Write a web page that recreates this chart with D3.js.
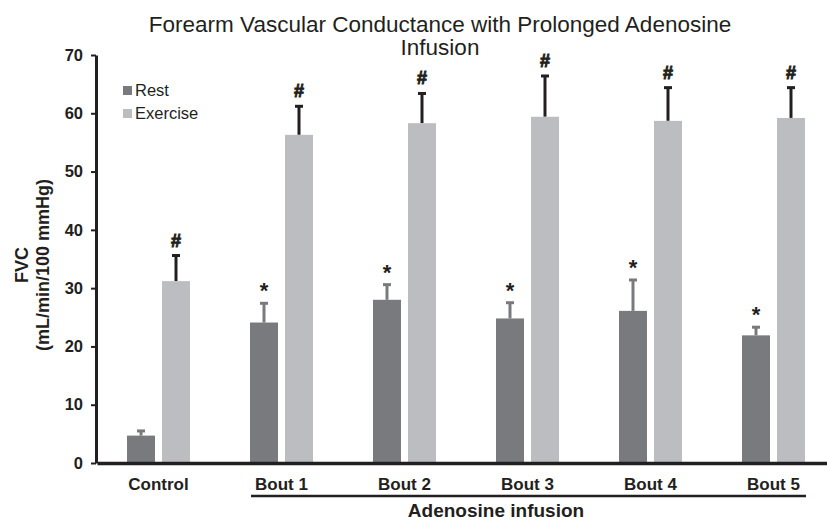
<!DOCTYPE html>
<html>
<head>
<meta charset="utf-8">
<script src="https://cdn.jsdelivr.net/npm/d3@7"></script>
<style>
  body { margin: 0; background: #fff; }
  svg { display: block; font-family: "Liberation Sans", Arial, sans-serif; }
</style>
</head>
<body>
<div id="chart"></div>
<script>
// Data
const groups = ["Control", "Bout 1", "Bout 2", "Bout 3", "Bout 4", "Bout 5"]
const series = ["Rest", "Exercise"]
const restValues = [4.7, 24.1, 28.0, 24.8, 26.1, 21.9]
const restErrors = [0.8, 3.3, 2.6, 2.7, 5.3, 1.4]
const exerciseValues = [31.2, 56.3, 58.3, 59.4, 58.7, 59.2]
const exerciseErrors = [4.4, 4.9, 5.1, 7.0, 5.7, 5.2]
const restMarks = ["", "*", "*", "*", "*", "*"]
const exerciseMarks = ["#", "#", "#", "#", "#", "#"]
const yTicks = [0, 10, 20, 30, 40, 50, 60, 70]

// Colors
const restColor = "#797a7e"
const exerciseColor = "#bcbdc1"
const axisColor = "#231f20"

const width = 827
const height = 520

const svg = d3.select("#chart")
  .append("svg")
    .attr("width", width)
    .attr("height", height)

// Scales
const yScale = d3.scaleLinear()
    .domain([0, 70])
    .range([463, 55])

const xScale = d3.scaleBand()
    .domain(groups)
    .range([97, 835])

const xInner = d3.scaleBand()
    .domain(series)
    .range([30, 93])
    .paddingInner(0.2)

const rows = groups.map(function(g, i) {
  return [
    {group: g, key: "Rest", value: restValues[i], err: restErrors[i], mark: restMarks[i], color: restColor, errColor: restColor},
    {group: g, key: "Exercise", value: exerciseValues[i], err: exerciseErrors[i], mark: exerciseMarks[i], color: exerciseColor, errColor: axisColor}
  ]
}).flat()

function barX(d) { return xScale(d.group) + xInner(d.key) }
function barMid(d) { return barX(d) + xInner.bandwidth() / 2 }

// Title
svg.append("text")
    .attr("x", 440)
    .attr("y", 32)
    .attr("text-anchor", "middle")
    .style("font-size", "22.5px")
    .style("fill", axisColor)
    .text("Forearm Vascular Conductance with Prolonged Adenosine")

svg.append("text")
    .attr("x", 440)
    .attr("y", 55)
    .attr("text-anchor", "middle")
    .style("font-size", "22.5px")
    .style("fill", axisColor)
    .text("Infusion")

// Error bars (drawn first so bars cover the lower half)
const errG = svg.append("g")
errG.selectAll(".err-line")
    .data(rows)
    .enter().append("line")
    .attr("x1", barMid)
    .attr("x2", barMid)
    .attr("y1", function(d) { return yScale(d.value) })
    .attr("y2", function(d) { return yScale(d.value + d.err) })
    .attr("stroke", function(d) { return d.errColor })
    .attr("stroke-width", 3)

errG.selectAll(".err-cap")
    .data(rows)
    .enter().append("line")
    .attr("x1", function(d) { return barMid(d) - 4 })
    .attr("x2", function(d) { return barMid(d) + 4 })
    .attr("y1", function(d) { return yScale(d.value + d.err) })
    .attr("y2", function(d) { return yScale(d.value + d.err) })
    .attr("stroke", function(d) { return d.errColor })
    .attr("stroke-width", 3)

// Bars
svg.append("g").selectAll("rect")
    .data(rows)
    .enter().append("rect")
    .attr("x", barX)
    .attr("y", function(d) { return yScale(d.value) })
    .attr("width", xInner.bandwidth())
    .attr("height", function(d) { return yScale(0) - yScale(d.value) })
    .attr("fill", function(d) { return d.color })

// Significance marks
svg.append("g").selectAll("text")
    .data(rows.filter(function(d) { return d.mark !== "" }))
    .enter().append("text")
    .attr("x", barMid)
    .attr("y", function(d) { return yScale(d.value + d.err) - (d.mark === "#" ? 9 : 5) })
    .attr("text-anchor", "middle")
    .style("font-size", function(d) { return d.mark === "#" ? "18px" : "22px" })
    .style("font-weight", "bold")
    .style("fill", axisColor)
    .style("stroke", axisColor)
    .style("stroke-width", function(d) { return d.mark === "#" ? 0.9 : 0 })
    .text(function(d) { return d.mark })

// Y-axis
const yAxis = svg.append("g")
    .attr("class", "y-axis")
    .attr("transform", "translate(96,0)")
    .call(d3.axisLeft(yScale)
      .tickValues(yTicks)
      .tickSizeInner(5)
      .tickSizeOuter(0)
      .tickPadding(8))

yAxis.select(".domain").attr("stroke", axisColor).attr("stroke-width", 3)
yAxis.selectAll(".tick line").attr("stroke", axisColor).attr("stroke-width", 2)
yAxis.selectAll(".tick text")
    .style("font-size", "16.5px")
    .style("font-weight", "bold")
    .style("font-family", "Liberation Sans, Arial, sans-serif")
    .attr("fill", axisColor)

// X-axis
const xAxis = svg.append("g")
    .attr("class", "x-axis")
    .attr("transform", "translate(0,463)")
    .call(d3.axisBottom(xScale)
      .tickSize(0)
      .tickPadding(15))

xAxis.select(".domain").attr("stroke", axisColor).attr("stroke-width", 3.5)
xAxis.selectAll(".tick text")
    .style("font-size", "17px")
    .style("font-weight", "bold")
    .style("font-family", "Liberation Sans, Arial, sans-serif")
    .attr("fill", axisColor)

// Bracket under the adenosine bouts
svg.append("line")
    .attr("x1", xScale("Bout 1") + 31)
    .attr("x2", xScale("Bout 5") + 94)
    .attr("y1", 496)
    .attr("y2", 496)
    .attr("stroke", axisColor)
    .attr("stroke-width", 2.5)

svg.append("text")
    .attr("x", 496)
    .attr("y", 517)
    .attr("text-anchor", "middle")
    .style("font-size", "19px")
    .style("font-weight", "bold")
    .style("fill", axisColor)
    .text("Adenosine infusion")

// Y-axis title
const yTitle = svg.append("text")
    .attr("transform", "translate(0,265) rotate(-90)")
    .attr("text-anchor", "middle")
    .style("font-size", "18px")
    .style("font-weight", "bold")
    .style("fill", axisColor)

yTitle.append("tspan").attr("x", 0).attr("y", 28).text("FVC")
yTitle.append("tspan").attr("x", 0).attr("y", 49).text("(mL/min/100 mmHg)")

// Legend
const legend = svg.append("g")
    .attr("transform", "translate(123,0)")

const legendItems = legend.selectAll("g")
    .data([{key: "Rest", color: restColor}, {key: "Exercise", color: exerciseColor}])
    .enter().append("g")
    .attr("transform", function(d, i) { return "translate(0," + (90 + i * 23) + ")" })

legendItems.append("rect")
    .attr("x", 0)
    .attr("y", -4)
    .attr("width", 9)
    .attr("height", 9)
    .attr("fill", function(d) { return d.color })

legendItems.append("text")
    .attr("x", 12)
    .attr("y", 6)
    .style("font-size", "16.5px")
    .style("fill", axisColor)
    .text(function(d) { return d.key })
</script>
</body>
</html>
